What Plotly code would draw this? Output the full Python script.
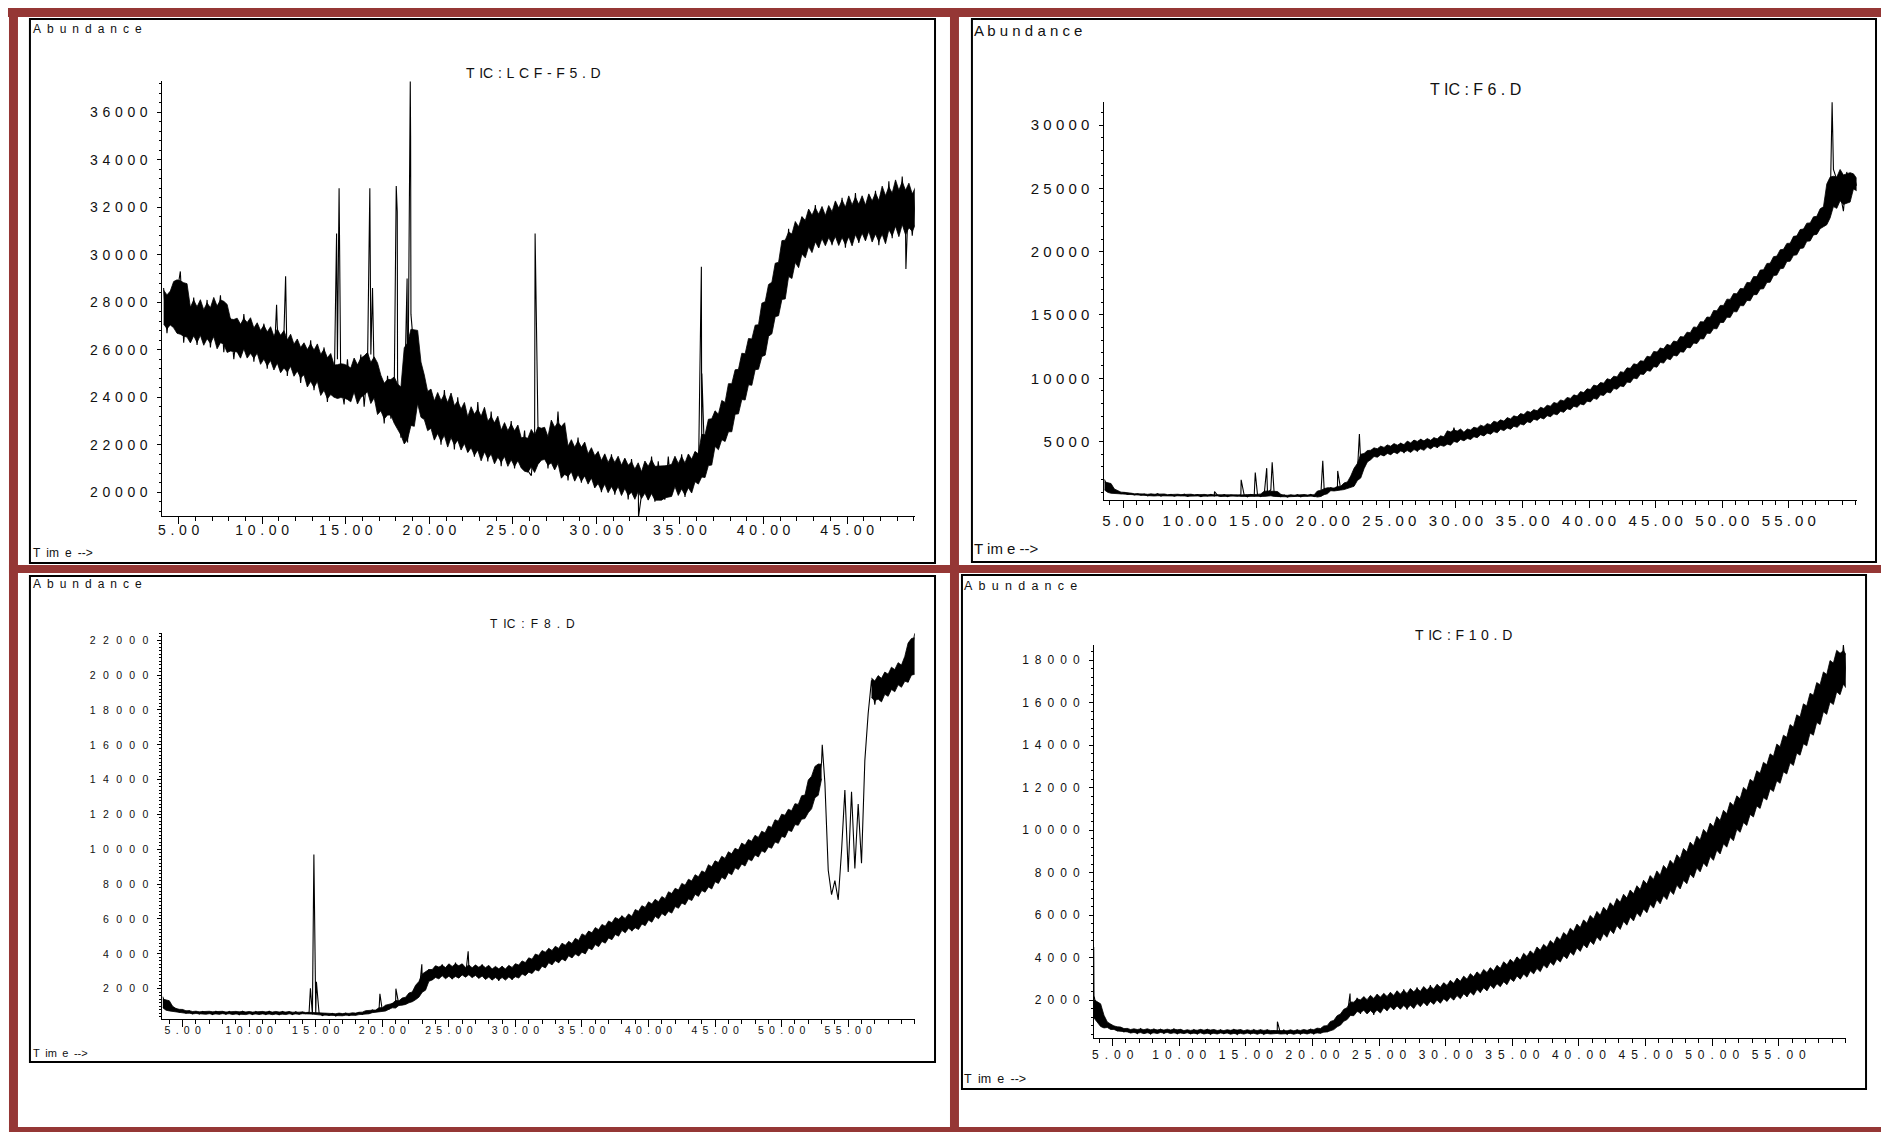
import numpy as np
import plotly.graph_objects as go

# ======================= DATA =======================
# TIC: LCF-F5.D  - abundance sampled every 0.2 min starting at 4.1 min
F5_T0, F5_DT = 4.1, 0.2
F5_TIC = [
    28600, 26700, 28100, 27000, 28400, 29300, 26300, 27900, 26600, 28200,
    26200, 27800, 26500, 28100, 26100, 27600, 26800, 28300, 25900, 27400,
    27300, 25600, 26900, 25800, 27500, 26000, 27200, 25500, 26800, 25900,
    27100, 25200, 26600, 25400, 27000, 25100, 26700, 24900, 26400, 25600,
    26300, 24600, 26000, 24800, 26400, 24300, 25800, 24700, 26100, 23800,
    25400, 24000, 25600, 24600, 23700, 25600, 23900, 25300, 24100, 25800,
    23600, 25300, 25800, 24800, 23500, 24800, 22900, 24900, 23100, 24300,
    24800, 22300, 23600, 22100, 27500, 25800, 25200, 23400, 24500, 22700,
    24200, 22300, 23900, 22000, 24300, 22500, 23600, 21800, 24000, 22200,
    23500, 21700, 23200, 21500, 23800, 21900, 22800, 21300, 23400, 21600,
    22900, 21100, 22700, 21400, 23000, 21000, 22500, 21300, 22600, 20900,
    20700, 22300, 22800, 21400, 22600, 21000, 22500, 21200, 23400, 21100,
    22200, 20500, 22000, 20700, 22300, 20400, 21900, 20600, 21800, 20200,
    21700, 20000, 21500, 20100, 21600, 19900, 21300, 20200, 21400, 19700,
    21400, 19800, 20900, 19900, 21200, 19700, 21500, 19600, 21300, 19800,
    19700, 21500, 19900, 21400, 20000, 21600, 19800, 21300, 20100, 21700,
    20500, 21800, 20800, 22900, 21600, 23400, 21900, 23600, 22200, 24100,
    23000, 24900, 23600, 25500, 24200, 26200, 24800, 26800, 25400, 27300,
    26300, 28400, 27100, 29200, 27800, 30100, 28600, 31100, 29300, 31000,
    29700, 31600, 30000, 31800, 30200, 32100, 30300, 31900, 30500, 32000,
    30400, 32200, 30600, 32400, 30300, 32100, 30700, 32600, 30500, 32300,
    30600, 32500, 30800, 32700, 30400, 32300, 30900, 33100, 30700, 32800,
    31000, 33300, 30900, 32900, 30800, 32500,
]
F5_PEAK_TIME = [10.86, 11.4, 14.45, 14.6, 16.44, 16.6, 18.02, 18.08, 18.67, 18.86, 18.88,
                26.33, 32.52, 36.28, 36.31, 48.52]
F5_PEAK_ABUND = [27900, 29100, 30900, 32800, 32800, 28600, 32900, 31800, 29000, 37300, 35000,
                 30900, 18970, 29500, 25000, 29400]
F5_NOISE_GAPS = []

# TIC: F6.D - every 0.25 min from 3.6 min
F6_T0, F6_DT = 3.6, 0.25
F6_TIC = [
    2000, 1350, 1150, 980, 1020, 880, 950, 820, 900, 790,
    870, 760, 850, 700, 820, 760, 880, 690, 810, 740,
    830, 680, 800, 720, 850, 670, 790, 740, 820, 660,
    800, 700, 830, 700, 760, 690, 810, 650, 780, 720,
    690, 800, 760, 640, 830, 700, 790, 650, 820, 900,
    1200, 900, 700, 650, 780, 620, 760, 680, 800, 640,
    770, 700, 820, 660, 790, 720, 1300, 1050, 1350, 1150,
    1300, 1200, 1550, 1400, 1900, 1700, 2600, 3300, 3500, 4200,
    3700, 4500, 3800, 4600, 3900, 4700, 4000, 4800, 4100, 4900,
    4100, 4900, 4300, 5100, 4200, 5200, 4400, 5100, 4500, 5300,
    4500, 5400, 4700, 5500, 4900, 6100, 5000, 5800, 5100, 5900,
    5200, 6100, 5400, 6200, 5500, 6400, 5600, 6500, 5800, 6700,
    5900, 6800, 6000, 7000, 6200, 7100, 6400, 7300, 6600, 7500,
    6700, 7600, 6900, 7800, 7000, 8000, 7200, 8200, 7400, 8400,
    7600, 8600, 7800, 8800, 8000, 9100, 8200, 9300, 8500, 9600,
    8700, 9800, 9000, 10100, 9200, 10300, 9500, 10700, 9800, 11000,
    10100, 11300, 10400, 11500, 10800, 11900, 11000, 12400, 11300, 12500,
    11600, 12800, 11900, 13100, 12200, 13500, 12600, 13800, 12900, 14300,
    13300, 14700, 13700, 15000, 14200, 15600, 14600, 16000, 15000, 16500,
    15500, 16900, 15900, 17300, 16400, 17800, 16800, 18300, 17300, 18800,
    17900, 19300, 18400, 19900, 19000, 20400, 19500, 20900, 20000, 21500,
    20600, 22000, 21100, 22500, 21600, 23000, 22200, 23700, 23300, 26500,
    25700, 24600, 23200, 26300, 24700, 26000, 25200,
]
F6_PEAK_TIME = [11.87, 13.87, 14.93, 15.79, 16.2, 20.0, 21.12, 22.75, 58.25]
F6_PEAK_ABUND = [1050, 1975, 2550, 2900, 3370, 3475, 2680, 5600, 31800]
F6_NOISE_GAPS = []

# TIC: F8.D - every 0.25 min from 3.5 min
F8_T0, F8_DT = 3.5, 0.25
F8_TIC = [
    1540, 1050, 880, 760, 840, 660, 760, 600, 720, 560,
    680, 540, 700, 580, 650, 520, 710, 560, 670, 530,
    690, 550, 660, 500, 700, 570, 640, 520, 690, 540,
    670, 510, 700, 560, 640, 500, 690, 550, 660, 520,
    680, 540, 650, 560, 640, 520, 600, 600, 460, 560,
    470, 580, 430, 560, 490, 600, 450, 570, 500, 620,
    520, 680, 600, 780, 690, 700, 760, 1000, 820, 1150,
    1100, 1050, 1400, 1150, 1600, 1300, 1900, 1700, 2400, 2500,
    3100, 2500, 3300, 2600, 3400, 2700, 3200, 2550, 3500, 2650,
    3400, 2700, 3300, 2650, 3350, 2600, 3400, 2550, 3300, 2500,
    3250, 2450, 3300, 2600, 3200, 2500, 3400, 2700, 3500, 2800,
    3700, 2900, 3900, 3100, 4100, 3300, 4300, 3400, 4400, 3500,
    4500, 3700, 4700, 3800, 4800, 3900, 5000, 4100, 5300, 4300,
    5400, 4500, 5600, 4700, 5800, 4900, 6000, 5100, 6200, 5300,
    6200, 5300, 6400, 5500, 6700, 5700, 6900, 5900, 7100, 6100,
    7200, 6200, 7400, 6500, 7700, 6700, 7900, 6900, 8200, 7200,
    8400, 7400, 8700, 7600, 8900, 7900, 9300, 8100, 9500, 8400,
    9700, 8700, 10000, 8900, 10200, 9200, 10500, 9400, 10700, 9700,
    10900, 9900, 11200, 10200, 11500, 10500, 11900, 10800, 12200, 11200,
    12400, 11500, 12800, 12000, 13300, 12600, 14500, 13900, 15000, 13800,
    8800, 7400, 8200, 7100, 9900, 13400, 8700, 13300, 8900, 12600,
    9200, 15100, 17800, 19700, 18300, 19800, 18600, 20100, 18900, 20300,
    19200, 20600, 19400, 20900, 19600, 21300, 22400,
]
F8_PEAK_TIME = [14.6, 14.86, 15.05, 19.82, 21.02, 22.97, 26.45, 53.05]
F8_PEAK_ABUND = [2020, 9700, 2400, 1700, 2000, 3400, 4150, 16000]
F8_NOISE_GAPS = [(53.2, 56.6)]

# TIC: F10.D - every 0.25 min from 3.6 min
F10_T0, F10_DT = 3.6, 0.25
F10_TIC = [
    2200, 1500, 1050, 900, 780, 700, 760, 560, 690, 500,
    640, 470, 610, 420, 650, 480, 600, 400, 630, 460,
    620, 430, 590, 470, 640, 410, 600, 450, 570, 420,
    610, 400, 590, 460, 620, 380, 580, 440, 600, 410,
    570, 430, 620, 380, 590, 450, 560, 400, 610, 420,
    580, 380, 600, 440, 550, 450, 420, 590, 380, 560,
    430, 600, 390, 570, 450, 620, 400, 640, 460, 700,
    520, 850, 700, 1100, 950, 1400, 1250, 1700, 1500, 2100,
    1350, 2150, 1400, 2200, 1300, 2250, 1450, 2300, 1500, 2350,
    1550, 2400, 1600, 2500, 1550, 2450, 1650, 2600, 1700, 2550,
    1750, 2700, 1800, 2650, 1900, 2800, 1950, 2900, 2000, 3000,
    2100, 3100, 2150, 3200, 2300, 3300, 2350, 3400, 2500, 3500,
    2550, 3600, 2650, 3700, 2800, 3900, 2900, 4000, 3000, 4100,
    3150, 4300, 3250, 4400, 3400, 4600, 3550, 4700, 3700, 4900,
    3850, 5100, 4000, 5300, 4200, 5500, 4350, 5700, 4500, 5900,
    4700, 6100, 4850, 6300, 5000, 6500, 5200, 6700, 5400, 6900,
    5600, 7100, 5800, 7300, 6000, 7500, 6200, 7800, 6400, 8000,
    6600, 8200, 6800, 8500, 7100, 8700, 7300, 9000, 7600, 9300,
    7900, 9600, 8100, 9900, 8400, 10200, 8700, 10500, 9000, 10800,
    9300, 11100, 9700, 11500, 10000, 11800, 10400, 12200, 10800, 12600,
    11200, 13000, 11600, 13400, 12000, 13800, 12400, 14300, 12800, 14700,
    13300, 15200, 13700, 15700, 14200, 16200, 14700, 16700, 15200, 17200,
    15700, 17700, 16100, 18300, 16600, 18700, 17000,
]
F10_PEAK_TIME = [3.58, 17.37, 22.82]
F10_PEAK_ABUND = [4500, 980, 2300]
F10_NOISE_GAPS = []

# tick labels
F5_XTICKS = [5, 10, 15, 20, 25, 30, 35, 40, 45]
LONG_XTICKS = [5, 10, 15, 20, 25, 30, 35, 40, 45, 50, 55]
F5_YTICKS = [20000, 22000, 24000, 26000, 28000, 30000, 32000, 34000, 36000]
F6_YTICKS = [5000, 10000, 15000, 20000, 25000, 30000]
F8_YTICKS = [2000, 4000, 6000, 8000, 10000, 12000, 14000, 16000, 18000, 20000, 22000]
F10_YTICKS = [2000, 4000, 6000, 8000, 10000, 12000, 14000, 16000, 18000]

TITLES = {
    "F5": ["T", "IC", ":", "L", "C", "F", "-", "F", "5", ".", "D"],
    "F6": ["T", "IC", ":", "F", "6", ".", "D"],
    "F8": ["T", "IC", ":", "F", "8", ".", "D"],
    "F10": ["T", "IC", ":", "F", "1", "0", ".", "D"],
}
ABUND_TEXT = list("Abundance")
TIME_TEXT = ["T", "im", "e", "-->"]

# ======================= LAYOUT / STYLE =======================
W, H = 1881, 1132
RED = "#953735"
FONT = "Liberation Sans, Arial, Helvetica, sans-serif"
SP = " "
EN = "\u2002"
THIRD = "\u2004"
THIN = "\u2009"
CORE_FRACTION = 0.75


def sx(x):
    return x / W


def sy(y):
    return 1 - y / H


def spaced(chars, sep):
    return sep.join(chars)


def noise_core(v, k=2, frac=CORE_FRACTION):
    """Dense core of the noisy scans: local mean +/- a fraction of the local
    half-range; the individual scans' extremes poke out as thin spikes."""
    n = len(v)
    up = np.empty(n)
    lo = np.empty(n)
    for i in range(n):
        w = v[max(0, i - k):i + k + 1]
        c = w.mean()
        r = (w.max() - w.min()) / 2.0
        up[i], lo[i] = c + frac * r, c - frac * r
    return up, lo


panels = [
    dict(key="F5", t0=F5_T0, dt=F5_DT, tic=F5_TIC, pt=F5_PEAK_TIME, pv=F5_PEAK_ABUND,
         gaps=F5_NOISE_GAPS, xt=F5_XTICKS, yt=F5_YTICKS,
         box=(26, 19, 933, 563), plot=(158.8, 81, 912.7, 516),
         xr=[4.03, 49.05], yr=[19000, 37320], yminor=400,
         fs=14, xsep=THIRD, ysep=THIRD, xstand=-6, ystand=7,
         ab=(28, 29, 12, EN), ti=(530.5, 73, 14, THIRD), tm=(28, 553, 12, EN)),
    dict(key="F6", t0=F6_T0, dt=F6_DT, tic=F6_TIC, pt=F6_PEAK_TIME, pv=F6_PEAK_ABUND,
         gaps=F6_NOISE_GAPS, xt=LONG_XTICKS, yt=F6_YTICKS,
         box=(970, 19, 1876, 562), plot=(1102.6, 102, 1856.7, 500),
         xr=[3.59, 60.1], yr=[384, 31825], yminor=1000,
         fs=15, xsep=SP, ysep=SP, xstand=0, ystand=7,
         ab=(971, 31, 15, SP), ti=(1475, 89, 16, SP), tm=(971, 548, 15, SP)),
    dict(key="F8", t0=F8_T0, dt=F8_DT, tic=F8_TIC, pt=F8_PEAK_TIME, pv=F8_PEAK_ABUND,
         gaps=F8_NOISE_GAPS, xt=LONG_XTICKS, yt=F8_YTICKS,
         box=(26, 576, 933, 1062), plot=(158.8, 632.7, 912.7, 1019.3),
         xr=[3.485, 60.0], yr=[241, 22437], yminor=200,
         fs=10.5, xsep=EN, ysep=EN + THIN, xstand=-6, ystand=7,
         ab=(28, 584.3, 12, EN), ti=(530, 624, 12, EN), tm=(28, 1052.7, 11, EN)),
    dict(key="F10", t0=F10_T0, dt=F10_DT, tic=F10_TIC, pt=F10_PEAK_TIME, pv=F10_PEAK_ABUND,
         gaps=F10_NOISE_GAPS, xt=LONG_XTICKS, yt=F10_YTICKS,
         box=(960, 575, 1866, 1089), plot=(1092.3, 645, 1845.7, 1038.3),
         xr=[3.6, 60.03], yr=[198, 18706], yminor=400,
         fs=12, xsep=EN, ysep=EN, xstand=-2, ystand=7,
         ab=(961, 585.7, 12.5, EN), ti=(1463, 635, 14, THIRD), tm=(961, 1079, 12.5, EN)),
]

fig = go.Figure()
shapes = []
annotations = []

# dark red frame
red_rects = [
    (4, 8, W, 17),        # top bar
    (5, 8, 14, H),        # left bar
    (948, 8, 957, H),     # middle vertical divider
    (5, 565, W, 573),     # middle horizontal bar
    (5, 1127, W, H),      # bottom bar
]
for (x0, y0, x1, y1) in red_rects:
    shapes.append(dict(type="rect", xref="paper", yref="paper",
                       x0=sx(x0), x1=sx(x1), y0=sy(y1), y1=sy(y0),
                       fillcolor=RED, line=dict(width=0), layer="below"))

for k, p in enumerate(panels):
    idx = "" if k == 0 else str(k + 1)
    t = p["t0"] + p["dt"] * np.arange(len(p["tic"]))
    v = np.array(p["tic"], dtype=float)

    # contiguous runs of scans that form the noise band
    keep = np.ones(len(t), dtype=bool)
    for (a, b) in p["gaps"]:
        keep &= ~((t > a) & (t < b))
    segs, cur = [], []
    for i in range(len(t)):
        if keep[i]:
            cur.append(i)
        elif cur:
            segs.append(cur)
            cur = []
    if cur:
        segs.append(cur)

    for seg in segs:
        if len(seg) < 3:
            continue
        s = np.array(seg)
        up, lo = noise_core(v[s])
        fig.add_trace(go.Scatter(
            x=t[s], y=lo, mode="lines", line=dict(color="black", width=0.8),
            xaxis="x" + idx, yaxis="y" + idx, showlegend=False, hoverinfo="skip"))
        fig.add_trace(go.Scatter(
            x=t[s], y=up, mode="lines", line=dict(color="black", width=0.8),
            fill="tonexty", fillcolor="black",
            xaxis="x" + idx, yaxis="y" + idx, showlegend=False, hoverinfo="skip"))

    # the full trace (every scan) including the narrow peaks
    tt = np.concatenate([t, np.array(p["pt"], dtype=float)])
    vv = np.concatenate([v, np.array(p["pv"], dtype=float)])
    order = np.argsort(tt, kind="stable")
    fig.add_trace(go.Scatter(
        x=tt[order], y=vv[order], mode="lines",
        line=dict(color="black", width=1.1),
        xaxis="x" + idx, yaxis="y" + idx, showlegend=False, hoverinfo="skip"))

    bx0, by0, bx1, by1 = p["box"]
    shapes.append(dict(type="rect", xref="paper", yref="paper",
                       x0=sx(bx0), x1=sx(bx1), y0=sy(by1), y1=sy(by0),
                       line=dict(color="black", width=2), fillcolor="rgba(0,0,0,0)",
                       layer="above"))

    px0, py0, px1, py1 = p["plot"]
    tickfont = dict(family=FONT, size=p["fs"], color="#111")
    fig.layout["xaxis" + idx] = dict(
        domain=[sx(px0), sx(px1)], range=p["xr"], anchor="y" + idx,
        showline=True, linecolor="black", linewidth=1,
        ticks="outside", ticklen=7, tickwidth=1, tickcolor="black",
        tickmode="array", tickvals=p["xt"],
        ticktext=[spaced(list(f"{val:.2f}"), p["xsep"]) for val in p["xt"]],
        tickangle=0, tickfont=tickfont, ticklabelstandoff=p["xstand"],
        minor=dict(ticks="outside", ticklen=3.5, tickwidth=1, tickcolor="black",
                   tick0=0, dtick=1, showgrid=False),
        showgrid=False, zeroline=False, fixedrange=True)
    fig.layout["yaxis" + idx] = dict(
        domain=[sy(py1), sy(py0)], range=p["yr"], anchor="x" + idx,
        showline=True, linecolor="black", linewidth=1,
        ticks="outside", ticklen=4, tickwidth=1, tickcolor="black",
        tickmode="array", tickvals=p["yt"],
        ticktext=[spaced(list(str(val)), p["ysep"]) for val in p["yt"]],
        tickfont=tickfont, ticklabelstandoff=p["ystand"],
        minor=dict(ticks="outside", ticklen=2, tickwidth=1, tickcolor="black",
                   tick0=0, dtick=p["yminor"], showgrid=False),
        showgrid=False, zeroline=False, fixedrange=True)

    ax, ay, afs, asep = p["ab"]
    annotations.append(dict(text=spaced(ABUND_TEXT, asep), x=sx(ax), y=sy(ay),
                            xref="paper", yref="paper", xanchor="left", yanchor="middle",
                            showarrow=False, font=dict(family=FONT, size=afs, color="#111"),
                            borderpad=0))
    tx, ty, tfs, tsep = p["ti"]
    annotations.append(dict(text=spaced(TITLES[p["key"]], tsep), x=sx(tx), y=sy(ty),
                            xref="paper", yref="paper", xanchor="center", yanchor="middle",
                            showarrow=False, font=dict(family=FONT, size=tfs, color="#111"),
                            borderpad=0))
    mx, my, mfs, msep = p["tm"]
    annotations.append(dict(text=spaced(TIME_TEXT, msep), x=sx(mx), y=sy(my),
                            xref="paper", yref="paper", xanchor="left", yanchor="middle",
                            showarrow=False, font=dict(family=FONT, size=mfs, color="#111"),
                            borderpad=0))

fig.update_layout(
    width=W, height=H, margin=dict(l=0, r=0, t=0, b=0),
    paper_bgcolor="white", plot_bgcolor="white",
    shapes=shapes, annotations=annotations, showlegend=False,
)

fig.write_html(
    "out.html",
    config={"displayModeBar": False},
    post_script="document.body.style.margin='0px';document.body.style.overflow='hidden';",
)
